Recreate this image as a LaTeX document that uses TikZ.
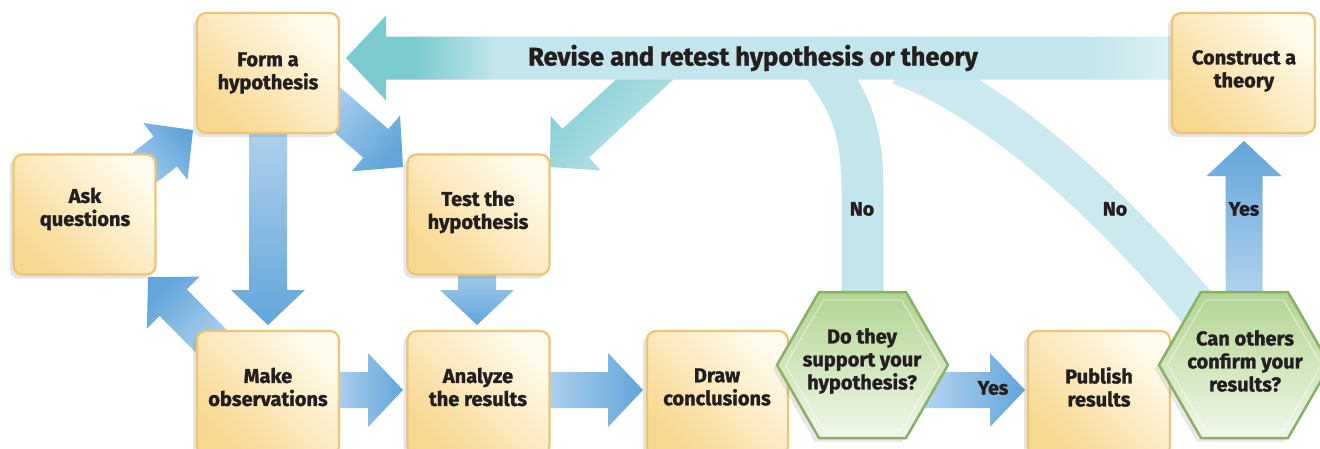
\documentclass[tikz,border=0pt]{standalone}
\usepackage{fontspec}
\setmainfont{Fira Sans}[BoldFeatures={FakeBold=1.3}]
\usetikzlibrary{calc,shadows}
\definecolor{boxlight}{HTML}{FFFBEC}
\definecolor{boxdark}{HTML}{F8D78F}
\definecolor{boxborder}{HTML}{EBC677}
\definecolor{arrlight}{HTML}{B3D4EF}
\definecolor{arrdark}{HTML}{62A5DA}
\definecolor{teallight}{HTML}{C3E6EC}
\definecolor{tealdark}{HTML}{7BCBCE}
\definecolor{tealfade}{HTML}{E2F3F6}
\definecolor{tealpale}{HTML}{CBE9EF}
\definecolor{hexlight}{HTML}{F0F7EA}
\definecolor{hexdark}{HTML}{B2D590}
\definecolor{hexborder}{HTML}{8AB06A}
\definecolor{txt}{HTML}{231F20}
\pgfdeclarehorizontalshading{bandshade}{100bp}{color(0bp)=(tealdark); color(29bp)=(tealdark); color(34bp)=(teallight); color(69bp)=(teallight); color(75bp)=(tealfade); color(100bp)=(tealfade)}
% #1 shade options, #2 tail, #3 tip, #4 half shaft, #5 half head, #6 head length
\newcommand{\fatarrow}[6][]{%
  \coordinate (fatH) at ($(#3)!#6!(#2)$);
  \shade[#1] ($(#2)!#4!90:(#3)$) -- ($(fatH)!#4!90:(#3)$) -- ($(fatH)!#5!90:(#3)$) -- (#3)
    -- ($(fatH)!#5!-90:(#3)$) -- ($(fatH)!#4!-90:(#3)$) -- ($(#2)!#4!-90:(#3)$) -- cycle;}
% hexagon around a centre coordinate
\newcommand{\hexa}[1]{%
  \shade[hexbox] ($(#1)+(-85.5,0)$) -- ($(#1)+(-43.5,-73)$) -- ($(#1)+(43.5,-73)$) -- ($(#1)+(85.5,0)$)
    -- ($(#1)+(43.5,73)$) -- ($(#1)+(-43.5,73)$) -- cycle;
  \draw[white, opacity=0.45, line width=1.2pt, line join=round] ($(#1)+(-77,0)$) -- ($(#1)+(-39,-65)$) -- ($(#1)+(39,-65)$) -- ($(#1)+(77,0)$)
    -- ($(#1)+(39,65)$) -- ($(#1)+(-39,65)$) -- cycle;}
\begin{document}
\begin{tikzpicture}[x=1pt,y=-1pt,
  blue/.style={top color=arrlight, bottom color=arrdark, shading angle=#1},
  teal/.style={top color=teallight, bottom color=tealdark, shading angle=#1},
  box/.style={rounded corners=9pt, draw=boxborder, line width=2.2pt,
    top color=boxlight, bottom color=boxdark, shading angle=-45,
    drop shadow={opacity=0.2, shadow xshift=-4pt, shadow yshift=-4pt},
    minimum width=142pt, minimum height=120pt, inner sep=0pt},
  hexbox/.style={top color=hexdark, bottom color=hexlight, draw=hexborder, line width=2.5pt, line join=round,
    drop shadow={opacity=0.18, shadow xshift=-4pt, shadow yshift=-4pt}},
  lbl/.style={font=\bfseries\fontsize{20}{23}\selectfont, align=center, text=txt, inner sep=0pt},
  tag/.style={font=\bfseries\fontsize{19.5}{22}\selectfont, text=txt, inner sep=0pt},
  feedback/.style={line width=42pt, draw=teallight},
]
\path[use as bounding box, fill=white] (0,0) rectangle (1320,448);
\clip (0,0) rectangle (1320,448);

% centres of hexagons
\coordinate (doc) at (862.5,365);
\coordinate (canc) at (1244.5,365);

% feedback "No" paths
\coordinate (no1end) at (815,55);
\coordinate (no2end) at (900,64);
\draw[feedback] (doc) -- (862.5,190) .. controls (862.5,120) and (845,95) .. (no1end);
\draw[feedback, draw=tealpale] (1215,330) .. controls (1140,235) and (1010,103) .. (no2end);

% diagonal teal to Test
\coordinate (tdtail) at (668,58);
\coordinate (tdtip) at (550,167);
\fatarrow[teal=227]{tdtail}{tdtip}{19.5pt}{37pt}{35pt}

% top band arrow
\coordinate (revtail) at (1190,58);
\coordinate (revtip) at (346,58);
\fatarrow[shading=bandshade]{revtail}{revtip}{21.5pt}{42.5pt}{40pt}
\node[font=\bfseries\fontsize{25.5}{28}\selectfont, text=txt, inner sep=0pt] (revise) at (753,58) {Revise and retest hypothesis or theory};

% blue arrows
\coordinate (a1s) at (130,179); \coordinate (a1e) at (193,130);
\coordinate (a2s) at (218,348); \coordinate (a2e) at (148,277);
\coordinate (a3s) at (268,120); \coordinate (a3e) at (268,325);
\coordinate (a4s) at (320,95);  \coordinate (a4e) at (403,167);
\coordinate (a5s) at (477,260); \coordinate (a5e) at (477,325);
\coordinate (a6s) at (330,390); \coordinate (a6e) at (403,390);
\coordinate (a7s) at (540,390); \coordinate (a7e) at (643,390);
\coordinate (a8s) at (925,390); \coordinate (a8e) at (1025,390);
\coordinate (a9s) at (1244,300); \coordinate (a9e) at (1244,141);
\fatarrow[blue=128]{a1s}{a1e}{19pt}{36pt}{35pt}
\fatarrow[blue=225]{a2s}{a2e}{19pt}{37pt}{36pt}
\fatarrow[blue=0]{a3s}{a3e}{19pt}{37pt}{35pt}
\fatarrow[blue=49]{a4s}{a4e}{19pt}{37pt}{36pt}
\fatarrow[blue=0]{a5s}{a5e}{19pt}{37pt}{35pt}
\fatarrow[blue=90]{a6s}{a6e}{18pt}{37pt}{35pt}
\fatarrow[blue=90]{a7s}{a7e}{18pt}{37pt}{35pt}
\fatarrow[blue=90]{a8s}{a8e}{18pt}{37pt}{35pt}
\fatarrow[blue=180]{a9s}{a9e}{18.5pt}{37.5pt}{35pt}

% boxes
\node[box] (form) at (268,73) {};
\node[box] (ask) at (84.5,214.5) {};
\node[box] (test) at (478.5,214.5) {};
\node[box, minimum height=124pt] (make) at (268,393) {};
\node[box, minimum height=124pt] (analyze) at (478.5,393) {};
\node[box, minimum height=124pt, minimum width=141pt] (draw) at (717.5,393) {};
\node[box, minimum height=124pt] (publish) at (1099,393) {};
\node[box, minimum width=143pt] (construct) at (1243.5,73) {};

% hexagons
\hexa{doc}
\hexa{canc}

% texts
\node[lbl] (formt) at (268,73) {Form a\\hypothesis};
\node[lbl] (askt) at (85,209) {Ask\\questions};
\node[lbl] (testt) at (478,212) {Test the\\hypothesis};
\node[lbl] (maket) at (268,387) {Make\\observations};
\node[lbl] (anat) at (478,387) {Analyze\\the results};
\node[lbl] (drawt) at (717,387) {Draw\\conclusions};
\node[lbl] (pubt) at (1099,387) {Publish\\results};
\node[lbl] (cont) at (1244,71) {Construct a\\theory};
\node[lbl] (dot) at (862,361) {Do they\\support your\\hypothesis?};
\node[lbl] (cant) at (1245,361) {Can others\\confirm your\\results?};

\node[tag] (no1) at (862,209) {No};
\node[tag] (no2) at (1115,209) {No};
\node[tag] (yes1) at (993,388) {Yes};
\node[tag] (yes2) at (1244,209) {Yes};
\end{tikzpicture}
\end{document}
